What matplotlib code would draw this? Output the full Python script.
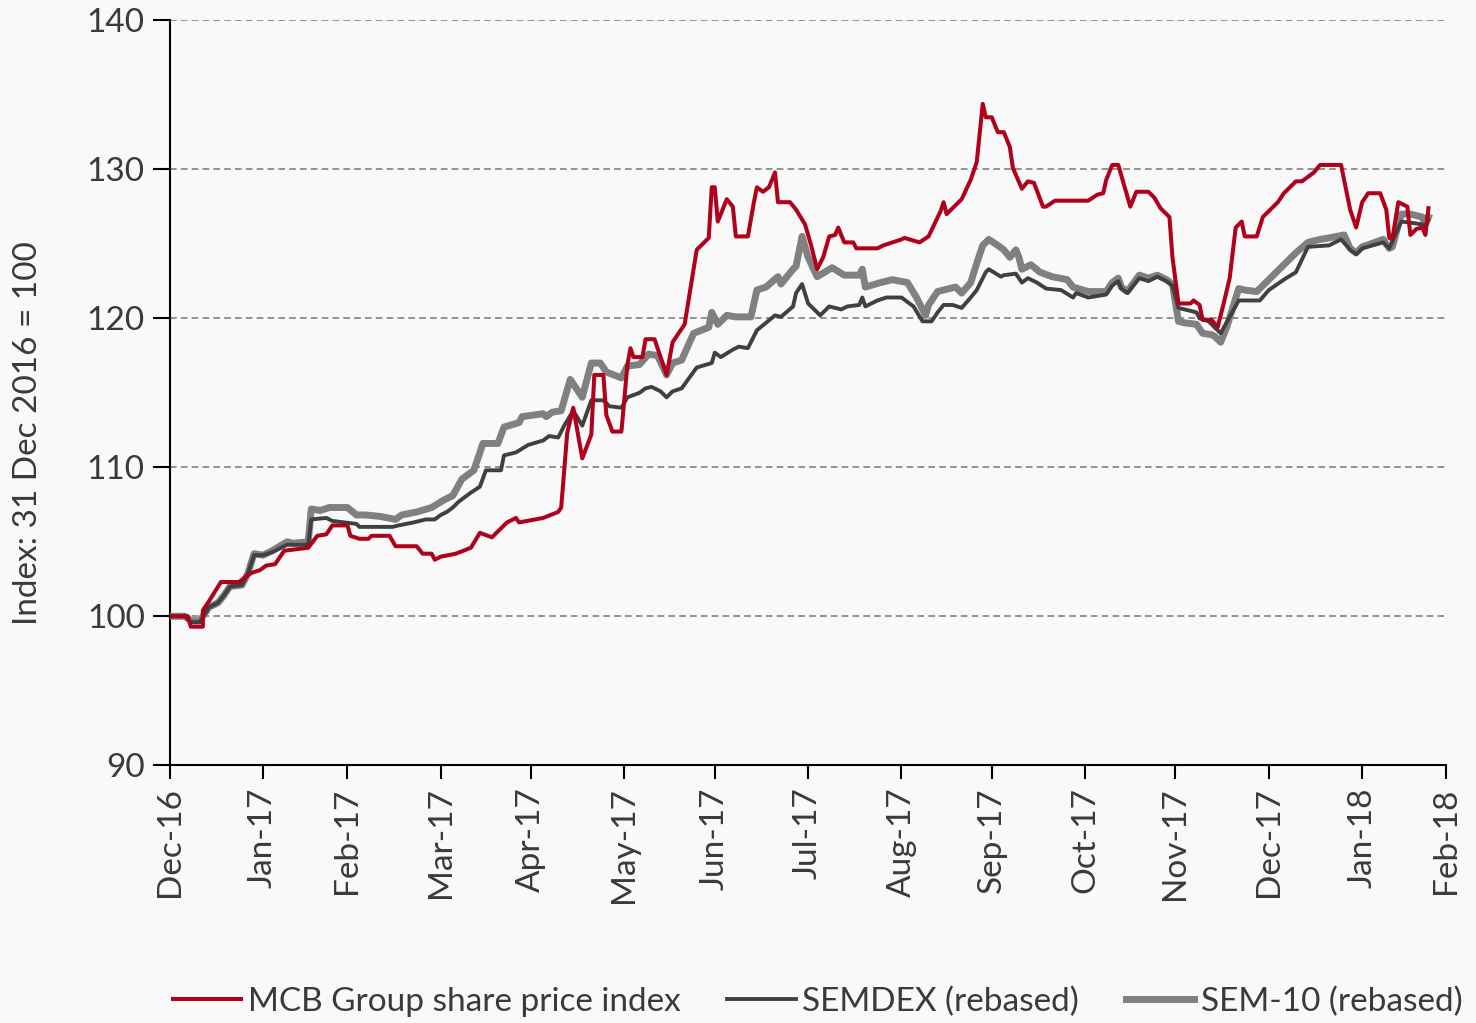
import matplotlib
matplotlib.use("Agg")
import matplotlib.pyplot as plt
import matplotlib.dates as mdates
import pandas as pd

# ── Data (days since 31 Dec 2016, index value) ───────────────────────────────
BASE_DATE = "2016-12-31"

mcb = [
    (0, 100.0), (6, 100.0), (7, 99.3), (11, 99.3), (11, 100.4), (13, 101.0), (17, 102.3),
    (23, 102.3), (27, 102.9), (30, 103.1), (32, 103.4), (35, 103.5), (38, 104.4), (46, 104.6),
    (49, 105.4), (52, 105.5), (54, 106.1), (59, 106.1), (60, 105.4), (63, 105.2), (66, 105.2),
    (67, 105.4), (73, 105.4), (75, 104.7), (82, 104.7), (84, 104.2), (87, 104.2), (88, 103.8),
    (90, 104.0), (95, 104.2), (100, 104.6), (103, 105.6), (107, 105.3), (112, 106.3),
    (115, 106.6), (116, 106.3), (124, 106.6), (129, 107.0), (130, 107.3), (132, 112.3),
    (134, 114.0), (137, 110.6), (140, 112.2), (141, 116.2), (144, 116.2), (145, 113.5),
    (147, 112.4), (150, 112.4), (152, 116.9), (153, 118.0), (154, 117.4), (157, 117.4),
    (158, 118.6), (161, 118.6), (165, 116.2), (167, 118.4), (171, 119.6), (175, 124.6),
    (179, 125.4), (180, 128.8), (181, 128.8), (182, 126.5), (185, 128.0), (187, 127.5),
    (188, 125.5), (192, 125.5), (194, 127.8), (195, 128.8), (197, 128.5), (199, 128.8),
    (201, 129.8), (202, 127.8), (206, 127.8), (208, 127.3), (211, 126.3), (213, 124.9),
    (215, 123.3), (217, 124.1), (219, 125.5), (221, 125.6), (222, 126.1), (224, 125.1),
    (227, 125.1), (228, 124.7), (235, 124.7), (237, 124.9), (243, 125.3), (244, 125.4),
    (249, 125.1), (252, 125.5), (256, 127.2), (257, 127.8), (258, 127.0), (262, 127.8),
    (263, 128.0), (266, 129.3), (268, 130.5), (270, 134.4), (271, 133.5), (273, 133.5),
    (275, 132.5), (277, 132.5), (279, 131.5), (280, 130.1), (283, 128.7), (285, 129.2),
    (287, 129.1), (290, 127.5), (291, 127.5), (294, 127.9), (305, 127.9), (308, 128.3),
    (310, 128.4), (311, 129.3), (313, 130.3), (315, 130.3), (319, 127.5), (321, 128.5),
    (325, 128.5), (327, 128.1), (329, 127.4), (332, 126.8), (333, 124.1), (335, 121.0),
    (339, 121.0), (340, 121.2), (342, 120.9), (343, 119.9), (346, 119.9), (348, 119.4),
    (350, 121.0), (352, 122.7), (354, 126.1), (356, 126.5), (357, 125.5), (361, 125.5),
    (363, 126.8), (368, 127.8), (370, 128.4), (374, 129.2), (376, 129.2), (380, 129.8),
    (382, 130.3), (389, 130.3), (390, 129.3), (392, 127.3), (394, 126.1), (396, 127.8),
    (398, 128.4), (402, 128.4), (404, 127.3), (405, 125.4), (406, 125.3), (408, 127.8),
    (411, 127.5), (412, 125.6), (414, 126.0), (416, 126.1), (417, 125.6), (418, 127.4),
]

semdex = [
    (0, 100.0), (5, 100.0), (7, 99.6), (10, 99.6), (13, 100.6), (16, 100.9), (18, 101.4),
    (20, 102.0), (24, 102.1), (26, 102.9), (28, 104.1), (31, 104.1), (34, 104.3), (39, 104.8),
    (46, 104.8), (47, 106.5), (52, 106.6), (54, 106.4), (62, 106.2), (63, 106.0), (74, 106.0),
    (76, 106.1), (81, 106.3), (85, 106.5), (88, 106.5), (90, 106.8), (92, 107.0), (94, 107.3),
    (96, 107.7), (100, 108.3), (103, 108.7), (105, 109.8), (110, 109.8), (111, 110.8),
    (115, 111.0), (119, 111.5), (124, 111.8), (126, 112.1), (129, 112.0), (131, 112.8),
    (134, 113.8), (137, 112.8), (140, 114.5), (144, 114.5), (146, 114.1), (150, 114.0),
    (152, 114.7), (156, 115.0), (158, 115.3), (160, 115.4), (163, 115.1), (165, 114.7),
    (167, 115.1), (170, 115.3), (175, 116.7), (180, 117.0), (181, 117.7), (183, 117.4),
    (187, 117.9), (189, 118.1), (192, 118.0), (195, 119.2), (198, 119.7), (201, 120.2),
    (203, 120.1), (207, 120.8), (208, 121.7), (210, 122.3), (212, 121.0), (216, 120.2),
    (219, 120.8), (223, 120.6), (225, 120.8), (229, 120.9), (230, 121.4), (231, 120.8),
    (235, 121.2), (238, 121.4), (243, 121.4), (247, 120.8), (250, 119.8), (253, 119.8),
    (255, 120.4), (257, 120.9), (260, 120.9), (263, 120.7), (266, 121.4), (268, 121.9),
    (271, 123.1), (272, 123.3), (276, 122.8), (277, 122.9), (281, 123.0), (283, 122.4),
    (285, 122.7), (288, 122.4), (291, 122.0), (296, 121.9), (300, 121.4), (301, 121.7),
    (305, 121.4), (311, 121.6), (313, 122.2), (315, 122.5), (316, 122.0), (318, 121.7),
    (322, 122.7), (325, 122.5), (328, 122.8), (331, 122.5), (333, 122.2), (335, 120.7),
    (341, 120.4), (342, 120.0), (345, 119.8), (348, 119.2), (349, 119.0), (352, 120.1),
    (355, 121.2), (362, 121.2), (365, 121.9), (370, 122.6), (374, 123.1), (378, 124.8),
    (385, 124.9), (389, 125.3), (392, 124.6), (394, 124.3), (396, 124.7), (403, 125.1),
    (405, 124.7), (409, 126.5), (413, 126.4), (416, 126.3), (417, 126.2), (418, 126.6),
]

sem10 = [
    (0, 100.0), (5, 100.0), (7, 99.7), (10, 99.7), (13, 100.6), (16, 100.9), (18, 101.4),
    (20, 102.0), (24, 102.1), (26, 102.9), (28, 104.2), (31, 104.1), (34, 104.4), (39, 105.0),
    (41, 104.9), (46, 105.0), (47, 107.2), (50, 107.1), (53, 107.3), (59, 107.3), (62, 106.8),
    (65, 106.8), (70, 106.7), (75, 106.5), (77, 106.8), (82, 107.0), (87, 107.3), (91, 107.8),
    (94, 108.1), (97, 109.2), (101, 109.8), (104, 111.6), (109, 111.6), (111, 112.7),
    (116, 113.0), (117, 113.4), (124, 113.6), (125, 113.4), (127, 113.7), (130, 113.8),
    (131, 114.5), (133, 115.9), (135, 115.3), (137, 114.7), (140, 117.0), (143, 117.0),
    (145, 116.4), (150, 116.0), (152, 116.8), (156, 116.9), (159, 117.6), (162, 117.5),
    (165, 116.2), (167, 117.0), (170, 117.2), (174, 119.0), (179, 119.4), (180, 120.4),
    (182, 119.6), (185, 120.2), (188, 120.1), (193, 120.1), (195, 121.9), (198, 122.1),
    (202, 122.8), (203, 122.3), (207, 123.3), (208, 123.5), (210, 125.5), (212, 124.1),
    (215, 122.8), (220, 123.4), (224, 122.9), (229, 122.9), (230, 123.3), (231, 122.1),
    (236, 122.4), (240, 122.6), (245, 122.4), (248, 121.4), (251, 120.2), (252, 120.9),
    (255, 121.8), (261, 122.1), (263, 121.7), (266, 122.4), (268, 123.7), (270, 124.9),
    (272, 125.3), (275, 124.9), (277, 124.6), (279, 124.1), (281, 124.6), (282, 124.1),
    (283, 123.3), (286, 123.6), (289, 123.1), (293, 122.8), (298, 122.6), (300, 122.1),
    (305, 121.8), (311, 121.8), (313, 122.4), (315, 122.7), (316, 122.1), (318, 121.8),
    (322, 122.9), (325, 122.7), (328, 122.9), (331, 122.6), (333, 122.3), (335, 119.8),
    (337, 119.7), (341, 119.6), (343, 119.0), (346, 118.9), (347, 118.8), (349, 118.4),
    (351, 119.4), (355, 122.0), (357, 121.9), (361, 121.8), (364, 122.4), (370, 123.6),
    (374, 124.4), (378, 125.1), (382, 125.3), (385, 125.4), (390, 125.6), (392, 124.7),
    (394, 124.4), (396, 124.8), (403, 125.3), (405, 124.7), (406, 124.8), (409, 127.0),
    (412, 127.0), (416, 126.8), (417, 126.3), (418, 126.8),
]

series_names = ["MCB Group share price index", "SEMDEX (rebased)", "SEM-10 (rebased)"]
y_ticks = [90, 100, 110, 120, 130, 140]
y_label = "Index: 31 Dec 2016 = 100"

RED, DARK, GREY = "#b0001c", "#404040", "#808080"
TEXT = "#3a3a3a"
FONT = ["Lato", "DejaVu Sans"]
FS = 24


def to_frame(pairs):
    df = pd.DataFrame(pairs, columns=["day", "value"])
    df["date"] = pd.Timestamp(BASE_DATE) + pd.to_timedelta(df["day"], unit="D")
    return df


plt.rcParams["font.family"] = FONT

fig = plt.figure(figsize=(14.76, 10.23), dpi=100, facecolor="#f9f9fa")
ax = fig.add_axes([0.115, 0.252, 0.865, 0.728])
ax.set_facecolor("none")

# draw grey first, then dark, then red on top
for pairs, color, lw, z in [(sem10, GREY, 5.0, 3), (semdex, DARK, 2.8, 4), (mcb, RED, 2.9, 5)]:
    df = to_frame(pairs)
    ax.plot(df["date"], df["value"], color=color, lw=lw, zorder=z, solid_joinstyle="round")

# ── Axes styling ─────────────────────────────────────────────────────────────
ax.set_ylim(90, 140)
ax.set_yticks(y_ticks)
for y in y_ticks[1:]:
    ax.axhline(y, color="#808080", lw=1.2, ls=(0, (4, 2.5)), zorder=1)

month_ends = pd.date_range(BASE_DATE, "2018-02-28", freq="ME")
ax.set_xlim(month_ends[0], month_ends[-1])
ax.set_xticks(month_ends)
ax.xaxis.set_major_formatter(mdates.DateFormatter("%b-%y"))

for side in ["top", "right"]:
    ax.spines[side].set_visible(False)
for side in ["left", "bottom"]:
    ax.spines[side].set_color("black")
    ax.spines[side].set_linewidth(1.5)

ax.tick_params(axis="y", length=12, width=1.5, labelsize=FS, labelcolor=TEXT, pad=6)
ax.tick_params(axis="x", length=10, width=1.5, labelsize=FS, labelcolor=TEXT,
               labelrotation=90, pad=6)
ax.tick_params(axis="both", color="black")
ax.set_ylabel(y_label, fontsize=FS, color=TEXT)
ax.yaxis.set_label_coords(-0.099, 0.446)

handles = ax.get_lines()[:3][::-1]
fig.legend(handles, series_names, loc="center", bbox_to_anchor=(0.554, 0.021), ncol=3,
           frameon=False, fontsize=FS, handlelength=2.05, handletextpad=0.2,
           columnspacing=1.4, labelcolor=TEXT)

fig.savefig("out.png", dpi=100, facecolor=fig.get_facecolor())
